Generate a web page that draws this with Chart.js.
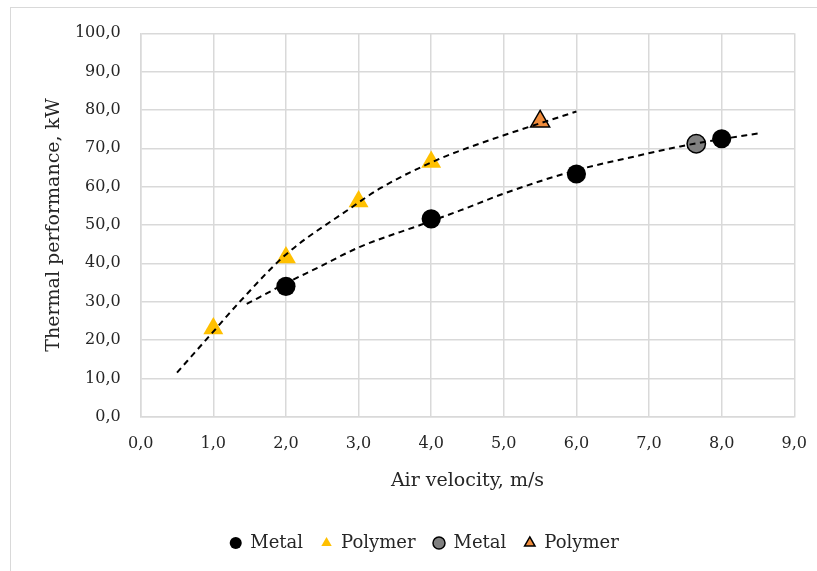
<!DOCTYPE html>
<html>
<head>
<meta charset="utf-8">
<script src="https://cdn.jsdelivr.net/npm/chart.js@4/dist/chart.umd.min.js"></script>
<style>
  html, body { margin: 0; padding: 0; background: #ffffff; }
  #wrap { position: relative; width: 817px; height: 571px; overflow: hidden; }
  #frame { position: absolute; left: 10px; top: 7px; width: 900px; height: 700px;
           border-left: 1.5px solid #d9d9d9; border-top: 1.5px solid #d9d9d9; }
  canvas { position: absolute; left: 0; top: 0; }
</style>
</head>
<body>
<div id="wrap">
  <div id="frame"></div>
  <canvas id="c" width="817" height="571"></canvas>
</div>
<script>
// ---- data ----
const metalX = [2, 4, 6, 8];
const metalY = [34.0, 51.6, 63.3, 72.5];
const polymerX = [1, 2, 3, 4];
const polymerY = [23.0, 41.5, 56.1, 66.4];
const metal2X = [7.65];
const metal2Y = [71.2];
const polymer2X = [5.5];
const polymer2Y = [77.0];
// dashed trend lines
const polyTrendX = [0.5, 1.0, 1.37, 2.0, 2.89, 3.3, 4.13, 4.4, 5.0, 6.0];
const polyTrendY = [11.5, 22.2, 30.1, 42.3, 54.4, 59.6, 67.4, 69.4, 73.4, 79.6];
const metalTrendX = [1.46, 2.0, 2.42, 3.02, 3.85, 4.4, 5.0, 6.0, 6.74, 7.43, 8.0, 8.51];
const metalTrendY = [29.4, 34.8, 38.7, 44.3, 50.0, 53.8, 58.2, 64.3, 67.6, 70.5, 72.4, 73.9];
const xTicksMin = 0, xTicksMax = 9, xStep = 1;
const yTicksMin = 0, yTicksMax = 100, yStep = 10;
const legendLabels = ['Metal', 'Polymer', 'Metal', 'Polymer'];

const pts = (xs, ys) => xs.map((x, i) => ({x: x, y: ys[i]}));
const fmt = v => Number(v).toFixed(1).replace('.', ',');
const FONT = 'DejaVu Serif';
const TXT = '#262626';
const GRID = '#d9d9d9';

new Chart(document.getElementById('c'), {
  type: 'scatter',
  data: {
    datasets: [
      { label: 'trendPoly', data: pts(polyTrendX, polyTrendY), showLine: true,
        borderColor: '#000', borderWidth: 2, borderDash: [6, 4.5], pointRadius: 0,
        cubicInterpolationMode: 'monotone', fill: false, order: 0 },
      { label: 'trendMetal', data: pts(metalTrendX, metalTrendY), showLine: true,
        borderColor: '#000', borderWidth: 2, borderDash: [6, 4.5], pointRadius: 0,
        cubicInterpolationMode: 'monotone', fill: false, order: 0 },
      { label: legendLabels[0], data: pts(metalX, metalY), pointStyle: 'circle',
        pointRadius: 9.6, backgroundColor: '#000', borderColor: '#000', borderWidth: 0, order: 1 },
      { label: legendLabels[1], data: pts(polymerX, polymerY), pointStyle: 'triangle',
        pointRadius: 11.5, backgroundColor: '#FFC000', borderColor: '#FFC000', borderWidth: 0, order: 1 },
      { label: legendLabels[2], data: pts(metal2X, metal2Y), pointStyle: 'circle',
        pointRadius: 9.2, backgroundColor: '#808080', borderColor: '#000', borderWidth: 1.5, order: 1 },
      { label: legendLabels[3], data: pts(polymer2X, polymer2Y), pointStyle: 'triangle',
        pointRadius: 11, backgroundColor: '#F08C3C', borderColor: '#000', borderWidth: 1.5, order: 1 }
    ]
  },
  options: {
    responsive: false,
    animation: false,
    devicePixelRatio: 1,
    layout: { padding: { top: 33.3, left: 54.7, right: 22.7, bottom: 9 } },
    plugins: {
      tooltip: { enabled: false },
      legend: {
        position: 'bottom',
        labels: {
          usePointStyle: true,
          boxWidth: 11,
          boxHeight: 8.5,
          padding: 18,
          color: TXT,
          font: { family: FONT, size: 18 },
          filter: item => !item.text.startsWith('trend')
        }
      }
    },
    scales: {
      x: {
        type: 'linear', min: xTicksMin, max: xTicksMax,
        afterFit: s => { s.height = 99.3; s.paddingLeft = 0; s.paddingRight = 0; },
        ticks: { stepSize: xStep, padding: 18, color: TXT, font: { family: FONT, size: 16 },
                 callback: v => fmt(v), maxRotation: 0 },
        grid: { color: GRID, lineWidth: 1.5, drawTicks: false },
        border: { color: GRID, width: 1.5 },
        title: { display: true, text: 'Air velocity, m/s', color: TXT,
                 font: { family: FONT, size: 19 }, padding: { top: 0, bottom: 23.6 } }
      },
      y: {
        type: 'linear', min: yTicksMin, max: yTicksMax,
        afterFit: s => { s.width = 86; s.paddingTop = 0; s.paddingBottom = 0; },
        ticks: { stepSize: yStep, padding: 20, color: TXT, font: { family: FONT, size: 16 },
                 callback: v => fmt(v) },
        grid: { color: GRID, lineWidth: 1.5, drawTicks: false },
        border: { color: GRID, width: 1.5 },
        title: { display: true, text: 'Thermal performance, kW', color: TXT,
                 font: { family: FONT, size: 19 }, padding: { top: -12.1, bottom: 0 } }
      }
    }
  }
});
</script>
</body>
</html>
